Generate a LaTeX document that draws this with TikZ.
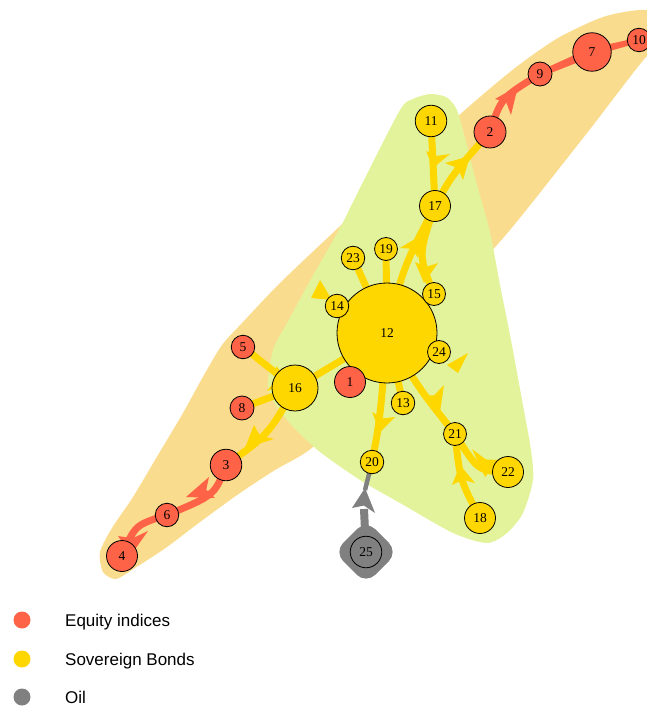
\documentclass[tikz,border=0pt]{standalone}
\usepackage{fontspec}
\setmainfont{Liberation Serif}
\newfontfamily\legendfont{Liberation Sans}
\usetikzlibrary{calc}
\definecolor{equity}{HTML}{FF6347}
\definecolor{bond}{HTML}{FFD700}
\definecolor{oil}{HTML}{808080}
\definecolor{hullorange}{HTML}{FADC8E}
\definecolor{hullgreen}{HTML}{E3F39B}
\pgfdeclarelayer{hulls}
\pgfdeclarelayer{links}
\pgfsetlayers{hulls,links,main}

% arrow head: colour, tip, barb, barb (back edge slightly notched)
\newcommand\headtri[4]{\fill[#1] #2 -- #3 -- ($#3!0.5!#4!0.22!#2$) -- #4 -- cycle;}

\tikzset{
  vtx/.style={circle, draw=black, line width=0.8pt, inner sep=0pt,
    minimum size=#1, font=\fontsize{13.5}{14}\selectfont},
  eq/.style={vtx=#1, fill=equity},
  bd/.style={vtx=#1, fill=bond},
  ol/.style={vtx=#1, fill=oil},
  bondlink/.style={draw=bond, line width=7pt},
  eqlink/.style={draw=equity, line width=7pt},
  oillink/.style={draw=oil, line width=#1},
  legdot/.style={circle, inner sep=0pt, minimum size=17pt},
  legtext/.style={anchor=base west, inner sep=0pt,
    font=\legendfont\fontsize{17}{20}\selectfont},
}

\begin{document}
\begin{tikzpicture}[x=1pt,y=-1pt]
\useasboundingbox (0,0) rectangle (646,708);

% ---- vertices ----
\node[bd=100pt] (n12) at (387,333) {12};
\node[eq=31pt]   (n1)  at (350,382) {1};
\node[eq=32pt]   (n2)  at (490,132) {2};
\node[eq=31.5pt] (n3)  at (226,465) {3};
\node[eq=31pt]   (n4)  at (122,556) {4};
\node[eq=23.5pt] (n5)  at (243,347) {5};
\node[eq=23.5pt] (n6)  at (167,515) {6};
\node[eq=38.5pt] (n7)  at (592,52)  {7};
\node[eq=24pt]   (n8)  at (242,408) {8};
\node[eq=24pt]   (n9)  at (540,74)  {9};
\node[eq=23.5pt] (n10) at (639,40)  {10};
\node[bd=31.5pt] (n11) at (431,121) {11};
\node[bd=23.5pt] (n13) at (403,403) {13};
\node[bd=23.5pt] (n14) at (337,306) {14};
\node[bd=23pt]   (n15) at (434,294) {15};
\node[bd=46pt]   (n16) at (295,388) {16};
\node[bd=31pt]   (n17) at (435,206) {17};
\node[bd=31pt]   (n18) at (480,518) {18};
\node[bd=23pt]   (n19) at (386,249) {19};
\node[bd=23.5pt] (n20) at (372,462) {20};
\node[bd=23pt]   (n21) at (455,434) {21};
\node[bd=31pt]   (n22) at (508,472) {22};
\node[bd=23.5pt] (n23) at (353,258) {23};
\node[bd=23pt]   (n24) at (439,352) {24};
\node[ol=31.5pt] (n25) at (366,552) {25};

% ---- group hulls ----
\begin{pgfonlayer}{hulls}
\fill[hullorange] plot[smooth cycle, tension=0.45] coordinates {
  (103,572) (100,552) (112,528) (133,497) (158,455) (183,413) (204,375)
  (222,345) (243,322) (280,283) (338,228) (400,170) (465,110) (515,68)
  (558,38) (603,17) (640,10) (665,14) (674,34) (662,50) (646,57)
  (587,133) (510,230) (460,285) (410,340) (360,395) (313,447) (275,470)
  (240,493) (200,522) (167,547) (135,568) (116,579)};
\fill[hullgreen] plot[smooth cycle, tension=0.45] coordinates {
  (400,110) (413,99) (430,94) (446,97) (456,108) (463,130) (477,185)
  (490,232) (500,285) (511,340) (522,400) (531,450) (533,480) (523,513)
  (507,533) (487,543) (453,533) (400,503) (360,480) (320,452) (297,431)
  (279,410) (268,388) (273,350) (287,323) (315,272) (340,228) (363,182)};
\fill[oil, rounded corners=13pt]
  ($(n25.center)+(0,-32)$) -- ($(n25.center)+(32,0)$) --
  ($(n25.center)+(0,32)$) -- ($(n25.center)+(-32,0)$) -- cycle;
\end{pgfonlayer}

% ---- links ----
\begin{pgfonlayer}{links}
% equity chain, top right
\draw[eqlink] (n2.center) .. controls (501,98) .. (n9.center);
\fill[equity] ($(n9.center)!3pt!90:(n7.center)$) -- ($(n9.center)!3pt!-90:(n7.center)$)
  -- ($(n7.center)!4.5pt!90:(n9.center)$) -- ($(n7.center)!4.5pt!-90:(n9.center)$) -- cycle;
\fill[equity] ($(n7.center)!4pt!90:(n10.center)$) -- ($(n7.center)!4pt!-90:(n10.center)$)
  -- ($(n10.center)!2.5pt!90:(n7.center)$) -- ($(n10.center)!2.5pt!-90:(n7.center)$) -- cycle;
\headtri{equity}{(518,86)}{(495,99)}{(511,115)}

% bonds around 17
\draw[bondlink] (n11.center) -- (n17.center);
\headtri{bond}{(433,168)}{(426,151)}{(450,154)}
\draw[bondlink] (n17.center) .. controls (452,175) .. (n2.center);
\headtri{bond}{(470,156)}{(445,163)}{(463,180)}
\draw[bondlink] (n12.center) .. controls (403,268) .. (n17.center);
\headtri{bond}{(423,234)}{(400,248)}{(418,258)}
\draw[bondlink] (n17.center) .. controls (418,255) .. (n15.center);
\headtri{bond}{(424,283)}{(415,262)}{(438,263)}

% spokes of 12
\draw[bondlink] (n12.center) -- (n14.center);
\fill[bond] (320,280) -- (311,298) -- (332,300) -- cycle;
\draw[bondlink] (n12.center) -- (n24.center);
\fill[bond] (447,365) -- (468,353) -- (458,373) -- cycle;
\draw[bondlink] (n23.center) -- (n12.center);
\draw[bondlink] (n19.center) -- (n12.center);
\draw[bondlink] (n13.center) -- (n12.center);
\draw[bondlink] (n16.center) -- (n12.center);
\draw[bondlink] (n12.center) .. controls (380,420) .. (n20.center);
\headtri{bond}{(380,432)}{(372,412)}{(395,417)}
\draw[bondlink] (n12.center) .. controls (417,386) .. (n21.center);
\headtri{bond}{(440,412)}{(421,396)}{(444,385)}

% lower right bonds
\draw[bondlink] (n21.center) .. controls (478,471) .. (n22.center);
\headtri{bond}{(485,477)}{(472,449)}{(500,460)}
\draw[bondlink] (n18.center) .. controls (460,480) .. (n21.center);
\headtri{bond}{(460,465)}{(452,485)}{(475,483)}

% oil into 20
\coordinate (o1) at (364,509);
\coordinate (o2) at (365,490);
\draw[oillink=8pt] (n25.center) -- (o1);
\draw[oillink=4.5pt] (o2) -- (n20.center);
\headtri{oil}{(365,488)}{(352,508)}{(375,513)}

% left side
\draw[bondlink] (n5.center) -- (n16.center);
\headtri{bond}{(292,384)}{(267,391)}{(276,366)}
\draw[bondlink] (n8.center) -- (n16.center);
\draw[bondlink] (n16.center) .. controls (268,435) .. (n3.center);
\headtri{bond}{(245,448)}{(254,425)}{(274,439)}
\draw[eqlink] (n3.center) .. controls (215,495) .. (n6.center);
\headtri{equity}{(186,497)}{(209,477)}{(215,498)}
\draw[eqlink] (n6.center) .. controls (135,525) .. (n4.center);
\headtri{equity}{(131,555)}{(118,536)}{(148,531)}
\end{pgfonlayer}

% ---- legend ----
\node[legdot, fill=equity] (k1) at (22,620) {};
\node[legdot, fill=bond]   (k2) at (22,659) {};
\node[legdot, fill=oil]    (k3) at (22,697) {};
\node[legtext] (t1) at (65,626) {Equity indices};
\node[legtext] (t2) at (65,665) {Sovereign Bonds};
\node[legtext] (t3) at (65,703) {Oil};
\end{tikzpicture}
\end{document}
